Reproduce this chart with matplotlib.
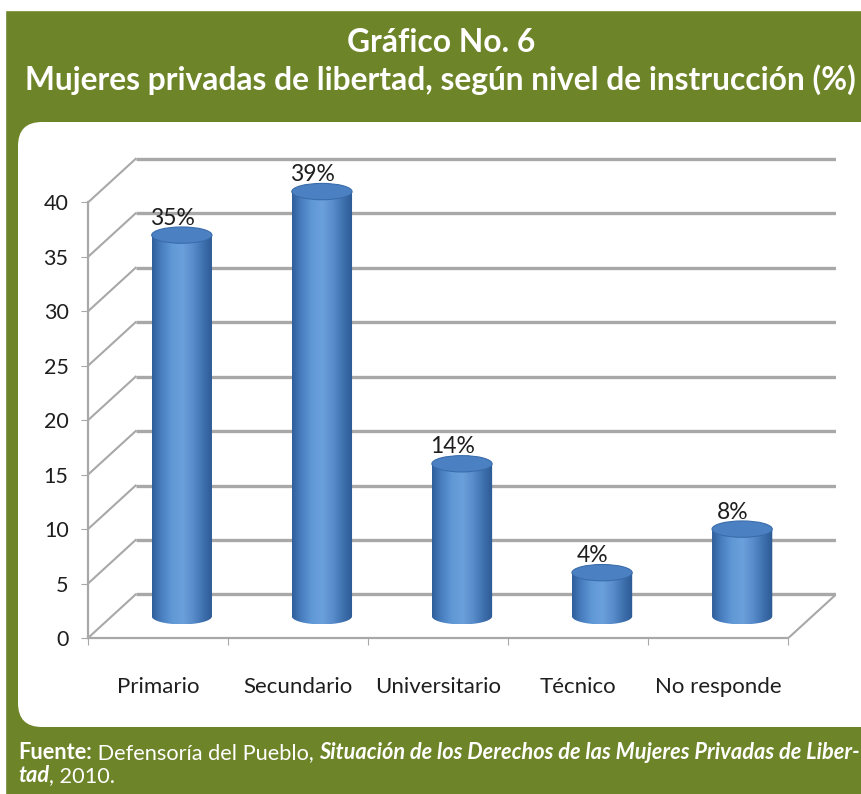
import numpy as np
import matplotlib
matplotlib.use("Agg")
import matplotlib.pyplot as plt
from matplotlib.patches import FancyBboxPatch, Rectangle, Ellipse, PathPatch
from matplotlib.path import Path
from matplotlib.colors import LinearSegmentedColormap

# data
categories = ["Primario", "Secundario", "Universitario", "Técnico", "No responde"]
values = [35, 39, 14, 4, 8]
value_labels = ["35%", "39%", "14%", "4%", "8%"]
y_ticks = [0, 5, 10, 15, 20, 25, 30, 35, 40]

title_1 = "Gráfico No. 6"
title_2 = "Mujeres privadas de libertad, según nivel de instrucción (%)"
source_parts = [
    ("Fuente:", "bold", "normal"),
    (" Defensoría del Pueblo, ", "normal", "normal"),
    ("Situación de los Derechos de las Mujeres Privadas de Liber-", "bold", "italic"),
]
source_parts_2 = [
    ("tad", "bold", "italic"),
    (", 2010.", "normal", "normal"),
]

GREEN = "#6e8429"
GRID = "#a8a8a8"
TEXT = "#1e1e1e"

plt.rcParams["font.family"] = ["Lato", "DejaVu Sans"]

W, H = 862, 794
fig = plt.figure(figsize=(W / 100, H / 100), dpi=100)
fig.patch.set_facecolor(GREEN)
renderer = fig.canvas.get_renderer()

# background frame in pixel units
bg = fig.add_axes([0, 0, 1, 1])
bg.set_xlim(0, W)
bg.set_ylim(H, 0)
bg.axis("off")
bg.add_patch(Rectangle((0, 0), W, 10, color="white"))
bg.add_patch(Rectangle((0, 0), 5, H, color="white"))
bg.add_patch(FancyBboxPatch((18, 122), 900, 605, boxstyle="round,pad=0,rounding_size=24",
                            fc="white", ec="none"))

t1 = bg.text(441, 42, title_1, ha="center", va="center", fontsize=22, fontweight="bold", color="white")
t2 = bg.text(440, 80, title_2, ha="center", va="center", fontsize=22, fontweight="bold", color="white")
w2 = t2.get_window_extent(renderer).width
fs_title = 22 * 834 / w2
t1.set_fontsize(fs_title)
t2.set_fontsize(fs_title)


def chain(parts, x, y, fs):
    out = []
    prev = None
    for txt, weight, style in parts:
        if prev is None:
            prev = bg.text(x, y, txt, ha="left", va="baseline", fontsize=fs, color="white",
                           fontweight=weight, fontstyle=style)
        else:
            prev = bg.annotate(txt, xy=(1, 0), xycoords=prev, ha="left", va="bottom", fontsize=fs,
                               color="white", fontweight=weight, fontstyle=style)
        out.append(prev)
    return out


line1 = chain(source_parts, 18, 759, 13)
line2 = chain(source_parts_2, 18, 782, 13)
fig.canvas.draw()
right = line1[-1].get_window_extent(renderer).x1
fs_src = 13 * (858 - 18) / (right - 18)
for a in line1 + line2:
    a.set_fontsize(fs_src)

# chart with oblique depth offset
DX, DY = 0.34, 4.0
ax = fig.add_axes([88 / W, (H - 638) / H, 748 / W, 490 / H])
ax.patch.set_alpha(0)
n = len(categories)

for v in y_ticks:
    ax.plot([DX, n + DX], [v + DY, v + DY], color=GRID, lw=2.4, zorder=1, solid_capstyle="butt")
    ax.plot([0, DX], [v, v + DY], color=GRID, lw=1.5, zorder=1)
ax.plot([n, n + DX], [0, DY], color=GRID, lw=1.5, zorder=1)

cmap = LinearSegmentedColormap.from_list(
    "cyl", ["#2f5e9a", "#4a80c2", "#6199d6", "#6aa0dc", "#5a8dcc", "#4072b0", "#2c5993"])
grad = np.linspace(0, 1, 256).reshape(1, -1)
half_w = 0.215
ry = 0.75
for i, (v, lbl) in enumerate(zip(values, value_labels)):
    cx = i + 0.5 + DX / 2
    base = DY / 2
    top = v + DY / 2
    t = np.linspace(0, np.pi, 50)
    verts = [(cx - half_w, top), (cx + half_w, top)]
    verts += list(zip(cx + half_w * np.cos(t), base - ry * np.sin(t)))
    verts.append((cx - half_w, top))
    clip = PathPatch(Path(verts), transform=ax.transData, fc="none", ec="none")
    ax.add_patch(clip)
    im = ax.imshow(grad, cmap=cmap, extent=(cx - half_w, cx + half_w, base - ry, top),
                   aspect="auto", zorder=3, interpolation="bilinear")
    im.set_clip_path(clip)
    ax.add_patch(Ellipse((cx, top), 2 * half_w, 2 * ry, fc="#4b81c3", ec="#3a6cab", lw=0.8, zorder=4))
    ax.text(cx - 0.07, top + ry * 0.8, lbl, ha="center", va="bottom", fontsize=16.5, color=TEXT, zorder=5)

ax.set_xlim(0, n + DX)
ax.set_ylim(0, 45)

for s in ["top", "right"]:
    ax.spines[s].set_visible(False)
ax.spines["left"].set_bounds(0, 40)
ax.spines["bottom"].set_bounds(0, n)
for s in ["left", "bottom"]:
    ax.spines[s].set_color(GRID)
    ax.spines[s].set_linewidth(1.6)

ax.set_yticks(y_ticks)
ax.set_yticklabels([str(v) for v in y_ticks])
ax.tick_params(axis="y", length=5, color=GRID, labelsize=15.5, labelcolor=TEXT, pad=9)

ax.set_xticks(range(n + 1))
ax.set_xticklabels([""] * (n + 1))
ax.set_xticks([i + 0.5 for i in range(n)], minor=True)
ax.set_xticklabels(categories, minor=True)
ax.tick_params(axis="x", which="major", length=5, color=GRID)
ax.tick_params(axis="x", which="minor", length=0, labelsize=16, labelcolor=TEXT, pad=28)

fig.savefig("out.png", dpi=100, facecolor=GREEN)
